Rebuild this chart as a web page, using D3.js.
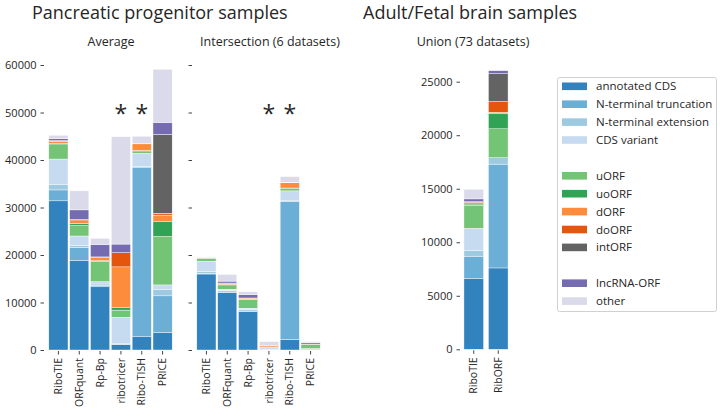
<!DOCTYPE html>
<head>
  <meta charset="utf-8" />
  <script src="https://d3js.org/d3.v7.min.js"></script>
  <style>
    body {
      margin: 0;
      background: #fff;
    }
    text {
      font-family: "Open Sans", "Noto Sans", sans-serif;
      fill: #262626;
    }
    .tick line {
      stroke: #444;
    }
  </style>
</head>

<body>
  <script>
    var width = 720,
      height = 409;

    // categories, bottom to top of each bar
    var categories = ["annotated CDS", "N-terminal truncation", "N-terminal extension", "CDS variant",
      "uORF", "uoORF", "dORF", "doORF", "intORF", "lncRNA-ORF", "other"];
    var colors = ["#3182bd", "#6baed6", "#9ecae1", "#c6dbef",
      "#74c476", "#31a354", "#fd8d3c", "#e6550d", "#636363", "#756bb1", "#dadaeb"];
    // blank legend rows after these entries
    var legendGaps = ["CDS variant", "intORF"];

    var methodsPanc = ["RiboTIE", "ORFquant", "Rp-Bp", "ribotricer", "Ribo-TISH", "PRICE"];
    var methodsBrain = ["RiboTIE", "RibORF"];

    // one row per method, one value per category
    var averageValues = [
      [31400, 2300, 1200, 5300, 3000, 300, 400, 100, 100, 400, 700],
      [18900, 2700, 400, 2000, 2200, 400, 600, 300, 0, 2000, 4000],
      [13300, 300, 300, 500, 4300, 100, 700, 100, 0, 2600, 1300],
      [1100, 100, 100, 5600, 1500, 500, 8600, 3000, 0, 1800, 22600],
      [2800, 35700, 200, 2700, 500, 100, 1400, 0, 0, 100, 1500],
      [3700, 7700, 1400, 900, 10200, 3100, 1400, 400, 16600, 2500, 11200]
    ];
    var intersectionValues = [
      [16000, 100, 400, 2200, 600, 50, 50, 0, 0, 50, 50],
      [12100, 100, 300, 300, 900, 100, 200, 100, 0, 400, 1400],
      [8100, 100, 300, 300, 1800, 50, 250, 50, 0, 700, 600],
      [50, 0, 50, 350, 100, 0, 300, 50, 0, 50, 800],
      [2200, 29000, 200, 2100, 500, 100, 1100, 0, 0, 100, 1200],
      [100, 100, 50, 50, 800, 100, 50, 0, 250, 50, 200]
    ];
    var unionValues = [
      [6600, 2100, 550, 2050, 2150, 120, 130, 50, 50, 250, 900],
      [7600, 9700, 600, 0, 2700, 1400, 150, 1000, 2600, 300, 50]
    ];
    var starredPanc = ["ribotricer", "Ribo-TISH"];

    var yTicksPanc = [0, 10000, 20000, 30000, 40000, 50000, 60000];
    var yTicksBrain = [0, 5000, 10000, 15000, 20000, 25000];

    var svg = d3.select("body").append("svg")
      .attr("width", width)
      .attr("height", height);

    var color = d3.scaleOrdinal().domain(categories).range(colors);

    var yPanc = d3.scaleLinear().domain([0, 60000]).range([350, 65]);
    var yBrain = d3.scaleLinear().domain([0, 25000]).range([349.3, 81.7]);

    function toRows(methods, values) {
      return methods.map(function (m, i) {
        var row = { method: m };
        categories.forEach(function (c, j) { row[c] = values[i][j]; });
        return row;
      });
    }

    function drawPanel(opt) {
      var x = d3.scaleBand().domain(opt.methods).range(opt.xRange)
        .paddingInner(opt.padIn).paddingOuter(opt.padOut);
      var y = opt.y;
      var g = svg.append("g");

      var series = d3.stack().keys(categories)(toRows(opt.methods, opt.values));

      g.selectAll("g.layer")
        .data(series)
        .join("g")
        .attr("class", "layer")
        .attr("fill", function (d) { return color(d.key); })
        .selectAll("rect")
        .data(function (d) { return d; })
        .join("rect")
        .attr("x", function (d) { return x(d.data.method); })
        .attr("width", x.bandwidth())
        .attr("y", function (d) { return y(d[1]); })
        .attr("height", function (d) { return Math.max(0, y(d[0]) - y(d[1])); })
        .attr("stroke", "#fff")
        .attr("stroke-width", 0.4);

      // y axis
      var ya = d3.axisLeft(y).tickValues(opt.yTicks).tickSize(3.5).tickPadding(4)
        .tickFormat(opt.showLabels ? d3.format("d") : "");
      var yg = g.append("g").attr("transform", "translate(" + opt.axisX + ",0)").call(ya);
      yg.select(".domain").remove();
      yg.selectAll("text").style("font-size", "11px").style("font-family", null).attr("fill", "#333");

      // x axis
      var xa = d3.axisBottom(x).tickSize(3.5).tickPadding(4);
      var xg = g.append("g").attr("transform", "translate(0," + (y(0) + 1) + ")").call(xa);
      xg.select(".domain").remove();
      xg.selectAll("text")
        .style("font-size", "10.5px").style("font-family", null).attr("fill", "#333")
        .attr("transform", "rotate(-90)")
        .attr("text-anchor", "end")
        .attr("x", -7)
        .attr("y", 0)
        .attr("dy", "0.35em");

      // subtitle
      svg.append("text")
        .attr("x", opt.titleX)
        .attr("y", 46)
        .attr("text-anchor", "middle")
        .style("font-size", "12.5px")
        .text(opt.title);

      if (opt.stars) {
        g.selectAll("text.star")
          .data(opt.stars)
          .join("text")
          .attr("class", "star")
          .attr("x", function (d) { return x(d) + x.bandwidth() / 2; })
          .attr("y", 122)
          .attr("text-anchor", "middle")
          .style("font-size", "23px")
          .attr("fill", "#111")
          .text("*");
      }
    }

    drawPanel({
      methods: methodsPanc, values: averageValues, y: yPanc, yTicks: yTicksPanc,
      xRange: [48, 173], padIn: 0.08, padOut: 0.04, axisX: 44, showLabels: true,
      title: "Average", titleX: 111, stars: starredPanc
    });
    drawPanel({
      methods: methodsPanc, values: intersectionValues, y: yPanc, yTicks: yTicksPanc,
      xRange: [196, 321], padIn: 0.08, padOut: 0.04, axisX: 192, showLabels: false,
      title: "Intersection (6 datasets)", titleX: 270, stars: starredPanc
    });
    drawPanel({
      methods: methodsBrain, values: unionValues, y: yBrain, yTicks: yTicksBrain,
      xRange: [461.5, 510.5], padIn: 0.2, padOut: 0.1, axisX: 460, showLabels: true,
      title: "Union (73 datasets)", titleX: 473
    });

    // big titles
    svg.append("text").attr("x", 32).attr("y", 19).style("font-size", "18px")
      .text("Pancreatic progenitor samples");
    svg.append("text").attr("x", 363).attr("y", 19).style("font-size", "18px")
      .text("Adult/Fetal brain samples");

    // legend
    var legend = svg.append("g");
    legend.append("rect")
      .attr("x", 557.5).attr("y", 77.5)
      .attr("width", 159).attr("height", 234)
      .attr("rx", 2)
      .attr("fill", "#fff")
      .attr("stroke", "#d0d0d0");

    var rowIndex = [];
    var r = 0;
    categories.forEach(function (c) {
      rowIndex.push(r);
      r += legendGaps.indexOf(c) >= 0 ? 2 : 1;
    });

    var item = legend.selectAll("g.item")
      .data(categories)
      .join("g")
      .attr("class", "item")
      .attr("transform", function (d, i) { return "translate(0," + (86.3 + rowIndex[i] * 17.9) + ")"; });
    item.append("rect")
      .attr("x", 562).attr("y", -3.8)
      .attr("width", 25).attr("height", 7.6)
      .attr("fill", function (d) { return color(d); });
    item.append("text")
      .attr("x", 596).attr("dy", "0.35em")
      .style("font-size", "11.5px")
      .attr("fill", "#333")
      .text(function (d) { return d; });
  </script>
</body>
